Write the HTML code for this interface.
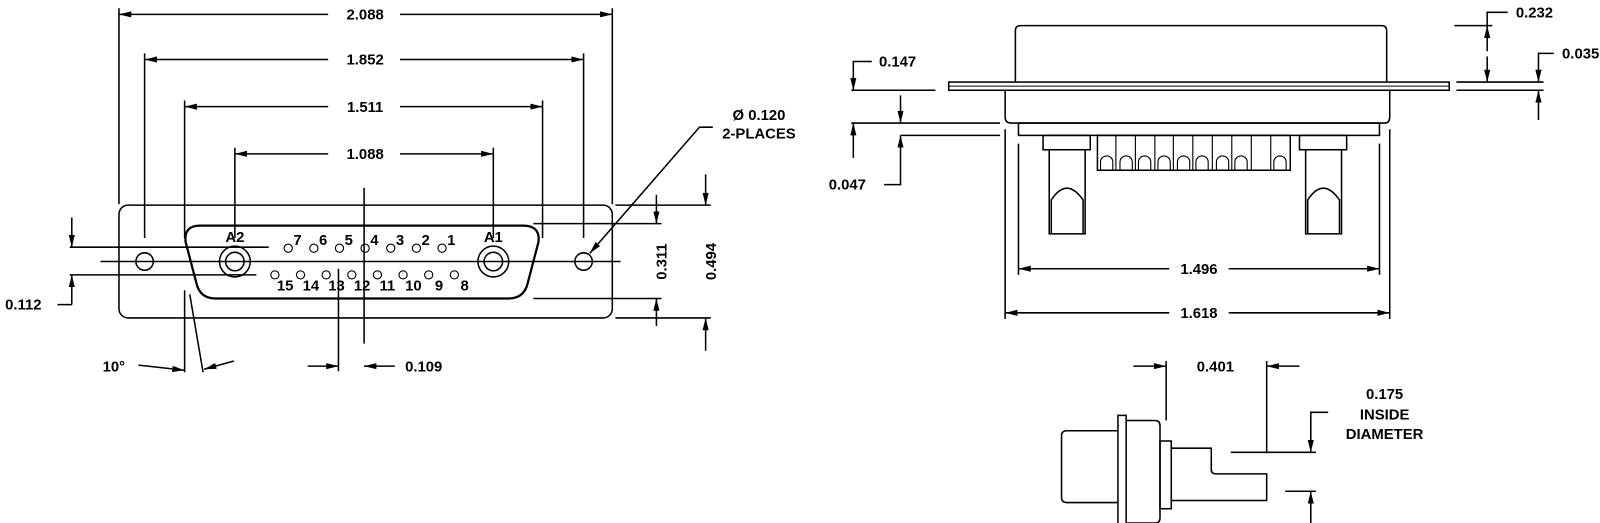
<!DOCTYPE html>
<html><head><meta charset="utf-8"><style>
html,body{margin:0;padding:0;background:#fff;}
svg{display:block;}
text{font-family:"Liberation Sans",Arial,sans-serif;font-weight:bold;font-size:14.5px;fill:#000;}
</style></head><body>
<svg width="1600" height="523" viewBox="0 0 1600 523" xmlns="http://www.w3.org/2000/svg">
<defs>
<marker id="a" viewBox="0 0 12 6" refX="12" refY="3" markerWidth="12" markerHeight="6" markerUnits="userSpaceOnUse" orient="auto-start-reverse"><path d="M0,0 L12,3 L0,6 z" fill="#000"/></marker>
</defs>
<g transform="scale(1.02564)">
<g fill="none" stroke="#000" stroke-width="1.5">
<!-- FRONT VIEW -->
<rect x="116" y="200" width="481" height="110" rx="9"/>
<path d="M195,220 L510,220 Q527,220 525,236 L514,278 Q510,291 496,291 L210,291 Q196,291 192,278 L181,236 Q179,220 195,220 Z" stroke-width="2.2"/>
<circle cx="141" cy="255" r="8.5"/><circle cx="569" cy="255" r="8.5"/>
<circle cx="229" cy="255" r="15"/><circle cx="229" cy="255" r="9"/>
<circle cx="481" cy="255" r="15"/><circle cx="481" cy="255" r="9"/>
<g stroke-width="1.1">
<circle cx="281" cy="242" r="4"/><circle cx="306" cy="242" r="4"/><circle cx="331" cy="242" r="4"/><circle cx="356" cy="242" r="4"/><circle cx="381" cy="242" r="4"/><circle cx="406" cy="242" r="4"/><circle cx="431" cy="242" r="4"/>
<circle cx="268" cy="268" r="4"/><circle cx="293" cy="268" r="4"/><circle cx="318" cy="268" r="4"/><circle cx="343" cy="268" r="4"/><circle cx="368" cy="268" r="4"/><circle cx="393" cy="268" r="4"/><circle cx="418" cy="268" r="4"/><circle cx="443" cy="268" r="4"/>
</g>
<line x1="98" y1="255" x2="605" y2="255"/>
<line x1="68" y1="241" x2="262" y2="241"/>
<line x1="68" y1="268" x2="250" y2="268"/>
<line x1="355" y1="183" x2="355" y2="335"/>
<line x1="330" y1="262" x2="330" y2="362"/>
<line x1="116" y1="8" x2="116" y2="199"/><line x1="597" y1="8" x2="597" y2="199"/>
<line x1="116" y1="14" x2="320" y2="14" marker-start="url(#a)"/><line x1="390" y1="14" x2="597" y2="14" marker-end="url(#a)"/>
<line x1="141" y1="52" x2="141" y2="232"/><line x1="569" y1="52" x2="569" y2="232"/>
<line x1="141" y1="58" x2="320" y2="58" marker-start="url(#a)"/><line x1="390" y1="58" x2="569" y2="58" marker-end="url(#a)"/>
<line x1="180" y1="98" x2="180" y2="232"/><line x1="529" y1="98" x2="529" y2="232"/>
<line x1="180" y1="104" x2="320" y2="104" marker-start="url(#a)"/><line x1="390" y1="104" x2="529" y2="104" marker-end="url(#a)"/>
<line x1="229" y1="144" x2="229" y2="232"/><line x1="481" y1="144" x2="481" y2="232"/>
<line x1="229" y1="150" x2="320" y2="150" marker-start="url(#a)"/><line x1="390" y1="150" x2="481" y2="150" marker-end="url(#a)"/>
<line x1="70" y1="212" x2="70" y2="241" marker-end="url(#a)"/>
<line x1="70" y1="297" x2="70" y2="268" marker-end="url(#a)"/>
<line x1="56" y1="297" x2="70" y2="297"/>
<line x1="520" y1="218" x2="645" y2="218"/><line x1="520" y1="291" x2="645" y2="291"/>
<line x1="640" y1="190" x2="640" y2="218" marker-end="url(#a)"/><line x1="640" y1="318" x2="640" y2="291" marker-end="url(#a)"/>
<line x1="600" y1="200" x2="693" y2="200"/><line x1="600" y1="310" x2="693" y2="310"/>
<line x1="688" y1="170" x2="688" y2="200" marker-end="url(#a)"/><line x1="688" y1="342" x2="688" y2="310" marker-end="url(#a)"/>
<polyline points="695,124 682,124 575,247" marker-end="url(#a)"/>
<line x1="180" y1="283" x2="180" y2="363"/>
<line x1="185" y1="287" x2="198" y2="363"/>
<line x1="135" y1="356" x2="180" y2="361" marker-end="url(#a)"/>
<line x1="228" y1="352" x2="199" y2="360" marker-end="url(#a)"/>
<line x1="300" y1="357" x2="330" y2="357" marker-end="url(#a)"/>
<line x1="385" y1="357" x2="355" y2="357" marker-end="url(#a)"/>

<!-- SIDE VIEW -->
<path d="M990,80 L990,30 Q990,25 995,25 L1347,25 Q1352,25 1352,30 L1352,80"/>
<rect x="925" y="80" width="488" height="8"/>
<line x1="925" y1="84" x2="1413" y2="84" stroke-width="1"/>
<path d="M980,88 L980,114 Q980,120 986,120 L1350,120 Q1355,120 1355,114 L1355,88"/>
<rect x="993" y="120" width="352" height="12"/>
<rect x="1017" y="132" width="46" height="14"/><rect x="1267" y="132" width="46" height="14"/>
<rect x="1023" y="146" width="35" height="82"/><rect x="1273" y="146" width="35" height="82"/>
<path d="M1025,228 L1025,195 Q1040,172 1056,195 L1056,228"/>
<path d="M1275,228 L1275,195 Q1290,172 1306,195 L1306,228"/>
<rect x="1070" y="132" width="188" height="34"/>
<g stroke-width="1.1">
<line x1="1088" y1="132" x2="1088" y2="166"/><line x1="1107" y1="132" x2="1107" y2="166"/><line x1="1126" y1="132" x2="1126" y2="166"/><line x1="1144" y1="132" x2="1144" y2="166"/><line x1="1163" y1="132" x2="1163" y2="166"/><line x1="1182" y1="132" x2="1182" y2="166"/><line x1="1201" y1="132" x2="1201" y2="166"/><line x1="1220" y1="132" x2="1220" y2="166"/><line x1="1239" y1="132" x2="1239" y2="166"/>
<path d="M1073,166 V158 A6,6 0 0 1 1085,158 V166 M1092,166 V158 A6,6 0 0 1 1104,158 V166 M1110,166 V158 A6,6 0 0 1 1122,158 V166 M1129,166 V158 A6,6 0 0 1 1141,158 V166 M1148,166 V158 A6,6 0 0 1 1160,158 V166 M1166,166 V158 A6,6 0 0 1 1178,158 V166 M1186,166 V158 A6,6 0 0 1 1198,158 V166 M1204,166 V158 A6,6 0 0 1 1216,158 V166 M1242,166 V158 A6,6 0 0 1 1254,158 V166"/>
</g>
<line x1="993" y1="140" x2="993" y2="268"/><line x1="1345" y1="140" x2="1345" y2="268"/>
<line x1="993" y1="262" x2="1140" y2="262" marker-start="url(#a)"/><line x1="1198" y1="262" x2="1345" y2="262" marker-end="url(#a)"/>
<line x1="980" y1="126" x2="980" y2="311"/><line x1="1355" y1="126" x2="1355" y2="311"/>
<line x1="980" y1="305" x2="1140" y2="305" marker-start="url(#a)"/><line x1="1198" y1="305" x2="1355" y2="305" marker-end="url(#a)"/>
<line x1="1418" y1="25" x2="1455" y2="25"/>
<polyline points="1470,12 1450,12 1450,25"/>
<line x1="1450" y1="50" x2="1450" y2="25" marker-end="url(#a)"/>
<line x1="1450" y1="55" x2="1450" y2="80" marker-end="url(#a)"/>
<line x1="1420" y1="80" x2="1505" y2="80"/><line x1="1420" y1="88" x2="1505" y2="88"/>
<polyline points="1515,52 1500,52 1500,80" marker-end="url(#a)"/>
<line x1="1500" y1="117" x2="1500" y2="88" marker-end="url(#a)"/>
<polyline points="850,60 832,60 832,88" marker-end="url(#a)"/>
<line x1="830" y1="88" x2="912" y2="88"/>
<line x1="878" y1="93" x2="878" y2="120" marker-end="url(#a)"/>
<line x1="830" y1="120" x2="975" y2="120"/>
<line x1="832" y1="154" x2="832" y2="120" marker-end="url(#a)"/>
<line x1="878" y1="132" x2="975" y2="132"/>
<polyline points="862,180 878,180 878,132" marker-end="url(#a)"/>

<!-- BOTTOM VIEW -->
<path d="M1090,420 L1040,420 Q1035,420 1035,425 L1035,485 Q1035,490 1040,490 L1090,490"/>
<rect x="1090" y="405" width="8" height="113"/>
<path d="M1098,410 L1126,410 Q1131,410 1131,415 L1131,505 Q1131,510 1126,510 L1098,510"/>
<rect x="1131" y="430" width="11" height="66"/>
<path d="M1142,437 L1181,437 L1181,458 Q1181,462 1186,462 L1235,462 L1235,488 L1142,488"/>
<line x1="1137" y1="352" x2="1137" y2="410"/>
<line x1="1105" y1="357" x2="1137" y2="357" marker-end="url(#a)"/>
<line x1="1235" y1="352" x2="1235" y2="442"/>
<line x1="1267" y1="357" x2="1235" y2="357" marker-end="url(#a)"/>
<line x1="1200" y1="441" x2="1283" y2="441"/>
<polyline points="1295,402 1278,402 1278,441" marker-end="url(#a)"/>
<line x1="1253" y1="479" x2="1283" y2="479"/>
<line x1="1278" y1="510" x2="1278" y2="479" marker-end="url(#a)"/>
</g>
<g>
<text x="356" y="19" text-anchor="middle">2.088</text>
<text x="356" y="63" text-anchor="middle">1.852</text>
<text x="356" y="109" text-anchor="middle">1.511</text>
<text x="356" y="155" text-anchor="middle">1.088</text>
<text x="229" y="236" text-anchor="middle">A2</text>
<text x="481" y="236" text-anchor="middle">A1</text>
<text x="286" y="239">7</text><text x="311" y="239">6</text><text x="336" y="239">5</text><text x="361" y="239">4</text><text x="386" y="239">3</text><text x="411" y="239">2</text><text x="436" y="239">1</text>
<text x="270" y="283">15</text><text x="295" y="283">14</text><text x="320" y="283">13</text><text x="345" y="283">12</text><text x="370" y="283">11</text><text x="395" y="283">10</text><text x="424" y="283">9</text><text x="449" y="283">8</text>
<text x="5" y="302">0.112</text>
<text x="100" y="362">10°</text>
<text x="395" y="362">0.109</text>
<text x="740" y="117" text-anchor="middle">Ø 0.120</text>
<text x="740" y="135" text-anchor="middle">2-PLACES</text>
<text transform="translate(650,255) rotate(-90)" text-anchor="middle">0.311</text>
<text transform="translate(698,255) rotate(-90)" text-anchor="middle">0.494</text>
<text x="1169" y="267" text-anchor="middle">1.496</text>
<text x="1169" y="310" text-anchor="middle">1.618</text>
<text x="1478" y="17">0.232</text>
<text x="1523" y="57">0.035</text>
<text x="857" y="65">0.147</text>
<text x="808" y="185">0.047</text>
<text x="1185" y="362" text-anchor="middle">0.401</text>
<text x="1350" y="389" text-anchor="middle">0.175</text>
<text x="1350" y="409" text-anchor="middle">INSIDE</text>
<text x="1350" y="428" text-anchor="middle">DIAMETER</text>
</g>
</g>
</svg>
</body></html>
